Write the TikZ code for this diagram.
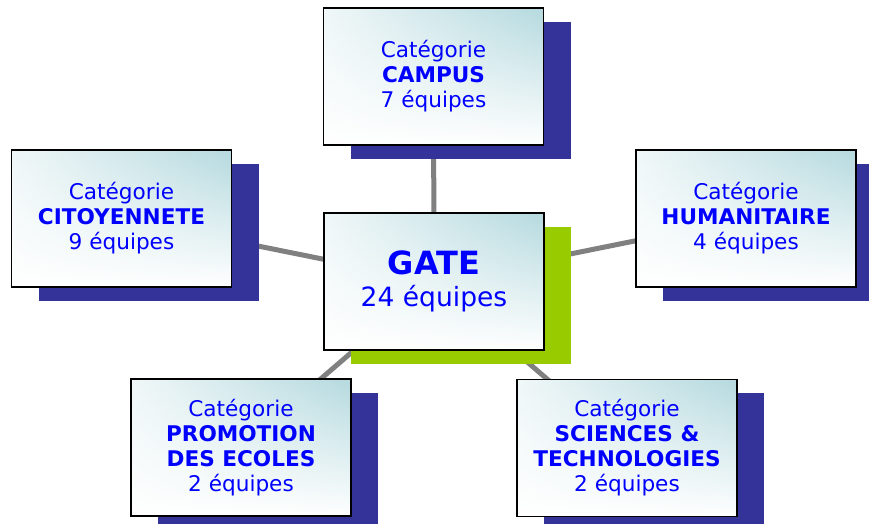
\documentclass[tikz,border=0pt]{standalone}
\usepackage{fontspec}
\setmainfont{DejaVu Sans}
\usetikzlibrary{shadows,backgrounds,fadings}
\definecolor{boxteal}{HTML}{B5DADF}
\definecolor{navy}{HTML}{333399}
\definecolor{lime}{HTML}{99CC00}
\definecolor{txtblue}{HTML}{0000FF}
\definecolor{linegray}{HTML}{808080}
\pgfdeclarehorizontalshading{hshade}{100bp}{color(0bp)=(white); color(12bp)=(white); color(75bp)=(boxteal); color(100bp)=(boxteal)}
\tikzfading[name=fadedown, top color=transparent!0, middle color=transparent!25, bottom color=transparent!100]
\tikzset{
  basebox/.style={draw=black, line width=1.4pt, fill=white,
    path picture={\shade[shading=hshade, path fading=fadedown] (path picture bounding box.south west) rectangle (path picture bounding box.north east);},
    minimum width=165pt, minimum height=102.75pt, inner sep=0pt,
    align=center, text=txtblue},
  catbox/.style={basebox, font=\fontsize{16.2}{18.75}\selectfont,
    general shadow={fill=navy, shadow xshift=20.25pt, shadow yshift=-10.5pt}},
  hubbox/.style={basebox, font=\fontsize{19.9}{24}\selectfont,
    general shadow={fill=lime, shadow xshift=20.25pt, shadow yshift=-10.5pt}},
  conn/.style={draw=linegray, line width=3.75pt}
}
\begin{document}
\begin{tikzpicture}[x=0.75pt,y=-0.75pt]
\useasboundingbox (0,0) rectangle (869,524);
\node[hubbox] (gate) at (434,281.5) {{\fontsize{24}{24}\selectfont\bfseries GATE}\\24 équipes};
\node[catbox] (campus) at (433.5,76.5) {Catégorie\\\textbf{CAMPUS}\\7 équipes};
\node[catbox] (cit) at (121.5,218.5) {Catégorie\\\textbf{CITOYENNETE}\\9 équipes};
\node[catbox] (hum) at (746,218.5) {Catégorie\\\textbf{HUMANITAIRE}\\4 équipes};
\node[catbox] (prom) at (241,447.5) {Catégorie\\\textbf{PROMOTION}\\\textbf{DES ECOLES}\\2 équipes};
\node[catbox] (sci) at (627,448) {Catégorie\\\textbf{SCIENCES \&}\\\textbf{TECHNOLOGIES}\\2 équipes};
\begin{pgfonlayer}{background}
\draw[conn] (gate.center) -- (campus.center);
\draw[conn] (gate.center) -- (cit.center);
\draw[conn] (gate.center) -- (hum.center);
\draw[conn] (gate.center) -- (prom.center);
\draw[conn] (gate.center) -- (sci.center);
\end{pgfonlayer}
\end{tikzpicture}
\end{document}
